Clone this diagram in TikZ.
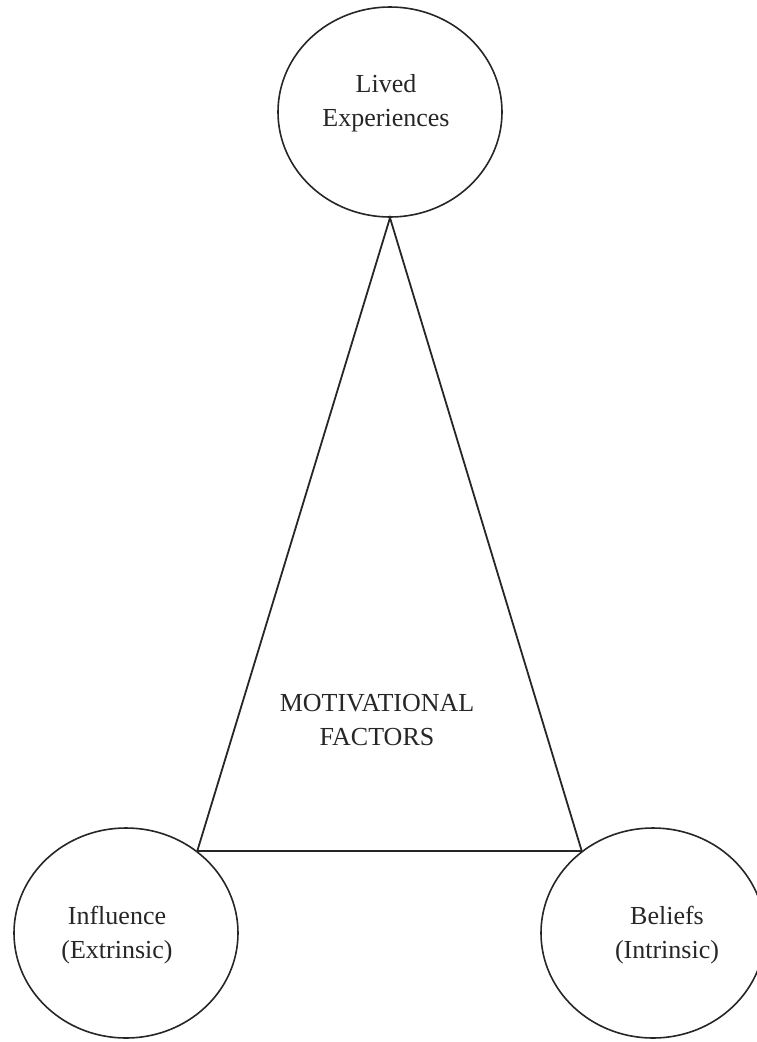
\documentclass[tikz,border=0pt]{standalone}
\usepackage{fontspec}
\setmainfont{Liberation Serif}
\usetikzlibrary{shapes.geometric}
\begin{document}
\begin{tikzpicture}[x=1pt,y=-1pt,
  bubble/.style={draw=black!85, line width=1.6pt, ellipse, inner sep=0pt,
    minimum width=224pt, minimum height=210pt},
  lbl/.style={align=center, text=black!85, font=\fontsize{26}{34}\selectfont},
  edge/.style={draw=black!85, line width=1.8pt}]
\useasboundingbox (0,0) rectangle (756,1042);
\node[bubble] (top) at (390,112) {};
\node[bubble] (bl) at (126,933) {};
\node[bubble] (br) at (653,933) {};
\node[lbl] (tl) at (386,103) {Lived\\Experiences};
\node[lbl] (bll) at (117,935) {Influence\\(Extrinsic)};
\node[lbl] (brl) at (667,935) {Beliefs\\(Intrinsic)};
\node[lbl] (mid) at (377,720) {MOTIVATIONAL\\FACTORS};
\coordinate (A) at (top.south);
\coordinate (B) at (bl.49);
\coordinate (C) at (br.131);
\draw[edge, line join=miter] (A) -- (B) -- (C) -- cycle;
\end{tikzpicture}
\end{document}
